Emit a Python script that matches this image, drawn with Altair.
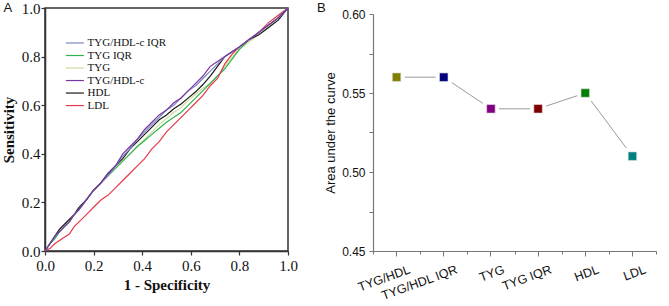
import altair as alt
import pandas as pd

# ---------------- data ----------------
roc_names = ["TYG/HDL-c IQR", "TYG IQR", "TYG", "TYG/HDL-c", "HDL", "LDL"]
roc_colors = ["#7b86c4", "#2eb34b", "#cbdc9c", "#7a36a0", "#1a1a1a", "#e8384a"]
draw_order = ["TYG", "TYG IQR", "LDL", "HDL", "TYG/HDL-c IQR", "TYG/HDL-c"]

fpr_grid = [0, 0.02, 0.04, 0.06, 0.08, 0.10, 0.12, 0.14, 0.17, 0.20, 0.23, 0.26,
            0.29, 0.32, 0.35, 0.38, 0.41, 0.44, 0.47, 0.50, 0.53, 0.56, 0.59, 0.62,
            0.65, 0.68, 0.71, 0.74, 0.77, 0.80, 0.84, 0.88, 0.92, 0.96, 1.0]
tpr_tyg_hdl_c = [0, 0.03, 0.06, 0.08, 0.10, 0.12, 0.15, 0.17, 0.21, 0.25, 0.28, 0.32,
                 0.35, 0.40, 0.43, 0.46, 0.50, 0.53, 0.56, 0.58, 0.61, 0.63, 0.66, 0.69,
                 0.72, 0.76, 0.78, 0.80, 0.82, 0.84, 0.87, 0.90, 0.93, 0.96, 1.0]
tpr_tyg_hdl_c_iqr = [0, 0.03, 0.06, 0.08, 0.10, 0.12, 0.15, 0.17, 0.21, 0.25, 0.28, 0.31,
                     0.35, 0.39, 0.42, 0.46, 0.49, 0.52, 0.55, 0.58, 0.60, 0.63, 0.66, 0.68,
                     0.71, 0.74, 0.77, 0.80, 0.82, 0.84, 0.87, 0.90, 0.93, 0.96, 1.0]
tpr_hdl = [0, 0.03, 0.06, 0.09, 0.11, 0.13, 0.15, 0.18, 0.21, 0.25, 0.28, 0.32,
           0.35, 0.38, 0.42, 0.45, 0.48, 0.51, 0.54, 0.56, 0.585, 0.605, 0.63, 0.655,
           0.685, 0.72, 0.76, 0.80, 0.82, 0.84, 0.87, 0.89, 0.92, 0.95, 1.0]
tpr_tyg_iqr = [0, 0.03, 0.05, 0.08, 0.10, 0.12, 0.15, 0.17, 0.21, 0.25, 0.28, 0.31,
               0.34, 0.37, 0.40, 0.43, 0.455, 0.48, 0.505, 0.53, 0.55, 0.57, 0.60, 0.63,
               0.66, 0.69, 0.72, 0.75, 0.79, 0.83, 0.87, 0.90, 0.93, 0.96, 1.0]
tpr_tyg = [0, 0.03, 0.06, 0.08, 0.10, 0.13, 0.15, 0.18, 0.21, 0.25, 0.28, 0.31,
           0.34, 0.37, 0.40, 0.43, 0.46, 0.49, 0.52, 0.545, 0.57, 0.59, 0.62, 0.645,
           0.67, 0.69, 0.72, 0.76, 0.80, 0.83, 0.86, 0.89, 0.92, 0.96, 1.0]
fpr_ldl = [0, 0.02, 0.04, 0.07, 0.10, 0.12, 0.14, 0.17, 0.20, 0.23, 0.26, 0.29,
           0.32, 0.35, 0.38, 0.41, 0.44, 0.47, 0.50, 0.53, 0.56, 0.59, 0.62, 0.65,
           0.68, 0.71, 0.74, 0.77, 0.80, 0.84, 0.88, 0.92, 0.96, 1.0]
tpr_ldl = [0, 0.01, 0.03, 0.05, 0.07, 0.10, 0.12, 0.15, 0.18, 0.21, 0.23, 0.26,
           0.29, 0.32, 0.35, 0.38, 0.42, 0.45, 0.49, 0.52, 0.55, 0.58, 0.61, 0.64,
           0.68, 0.71, 0.77, 0.81, 0.84, 0.87, 0.90, 0.94, 0.97, 1.0]

auc_labels = ["TYG/HDL", "TYG/HDL IQR", "TYG", "TYG IQR", "HDL", "LDL"]
auc_values = [0.56, 0.56, 0.54, 0.54, 0.55, 0.51]
auc_colors = ["#808000", "#000080", "#800080", "#800000", "#008000", "#008080"]
auc_ticks = [0.45, 0.475, 0.50, 0.525, 0.55, 0.575, 0.60]

# ---------------- tables ----------------
curves = {
    "TYG/HDL-c IQR": (fpr_grid, tpr_tyg_hdl_c_iqr),
    "TYG IQR": (fpr_grid, tpr_tyg_iqr),
    "TYG": (fpr_grid, tpr_tyg),
    "TYG/HDL-c": (fpr_grid, tpr_tyg_hdl_c),
    "HDL": (fpr_grid, tpr_hdl),
    "LDL": (fpr_ldl, tpr_ldl),
}
color_of = dict(zip(roc_names, roc_colors))

serif = "Liberation Serif"
sans = "Liberation Sans"
dark = "#333333"

xs = alt.Scale(domain=[0, 1], nice=False, zero=False)
ys = alt.Scale(domain=[0, 1], nice=False, zero=False)
ticks01 = [0, 0.2, 0.4, 0.6, 0.8, 1.0]

x_axis_l = alt.Axis(values=ticks01, format=".1f", title="1 - Specificity",
                    titleFont=serif, titleFontSize=15, titleFontWeight="bold",
                    titleColor="#111", labelFont=serif, labelFontSize=15,
                    labelColor="#111", tickSize=4, labelPadding=3, titlePadding=4,
                    domainColor=dark, tickColor=dark, domainWidth=1.5, tickWidth=1.2,
                    grid=False, labelFlush=False)
y_axis_l = alt.Axis(values=ticks01, format=".1f", title="Sensitivity",
                    titleFont=serif, titleFontSize=15, titleFontWeight="bold",
                    titleColor="#111", labelFont=serif, labelFontSize=15,
                    labelColor="#111", tickSize=4, labelPadding=1, titlePadding=5,
                    domainColor=dark, tickColor=dark, domainWidth=1.5, tickWidth=1.2,
                    grid=False, labelFlush=False)

left_layers = []
for name in draw_order:
    fx, ty = curves[name]
    df = pd.DataFrame({"fpr": fx, "tpr": ty, "idx": list(range(len(fx)))})
    left_layers.append(
        alt.Chart(df).mark_line(color=color_of[name], strokeWidth=1.2).encode(
            x=alt.X("fpr:Q", scale=xs, axis=x_axis_l),
            y=alt.Y("tpr:Q", scale=ys, axis=y_axis_l),
            order=alt.Order("idx:Q"),
        )
    )

# legend inside panel A, built from the series names
leg = pd.DataFrame({
    "name": roc_names,
    "col": roc_colors,
    "lx": [0.086] * len(roc_names),
    "lx2": [0.16] * len(roc_names),
    "tx": [0.175] * len(roc_names),
    "ly": [0.856 - 0.0515 * i for i in range(len(roc_names))],
})
leg_lines = alt.Chart(leg).mark_rule(strokeWidth=1.2).encode(
    x=alt.X("lx:Q", scale=xs, axis=x_axis_l),
    x2="lx2:Q",
    y=alt.Y("ly:Q", scale=ys, axis=y_axis_l),
    color=alt.Color("col:N", scale=None, legend=None),
)
leg_text = alt.Chart(leg).mark_text(font=serif, fontSize=11, align="left",
                                    baseline="middle", color="#111").encode(
    x=alt.X("tx:Q", scale=xs, axis=x_axis_l),
    y=alt.Y("ly:Q", scale=ys, axis=y_axis_l),
    text="name:N",
)
label_a = alt.Chart(alt.Data(values=[{}])).mark_text(
    text="A", font=sans, fontSize=13, align="left", baseline="alphabetic", color="#111"
).encode(x=alt.value(-41.5), y=alt.value(3.5))

left = alt.layer(*left_layers, leg_lines, leg_text, label_a).properties(
    width=243, height=243,
    view=alt.ViewBackground(stroke=dark, strokeWidth=1.5),
)

# ---------------- panel B ----------------
auc_df = pd.DataFrame({"marker": auc_labels, "auc": auc_values})
grey = "#777777"
xband = alt.Scale(type="band", domain=auc_labels, paddingInner=0, paddingOuter=0)
yauc = alt.Scale(domain=[0.45, 0.60], nice=False, zero=False, range=[243, 6])

x_major = alt.Axis(orient="bottom", title=None, labelAngle=340, labelAlign="right",
                   labelBaseline="top", labelOffset=11, labelPadding=7,
                   labelFont=sans, labelFontSize=12.5, labelColor="#111",
                   tickSize=5, tickColor=grey, domainColor=grey, domainWidth=1.2,
                   grid=False)
x_minor = alt.Axis(orient="bottom", title=None, labels=False, domain=False,
                   tickBand="extent", tickSize=3, tickColor=grey, grid=False)
y_major = alt.Axis(orient="left", values=auc_ticks,
                   labelExpr="round(datum.value * 40) % 2 == 1 ? '' : format(datum.value, '.2f')",
                   title="Area under the curve", titleFont=sans, titleFontSize=13,
                   titleFontWeight="normal", titleColor="#111", titlePadding=4,
                   labelFont=sans, labelFontSize=12, labelColor="#111", labelPadding=4,
                   tickSize=4, tickColor=grey, domainColor=grey, domainWidth=1.2,
                   grid=False, labelFlush=False)

base_b = alt.Chart(auc_df)
minor_b = base_b.mark_point(opacity=0).encode(
    x=alt.X("marker:N", sort=auc_labels, scale=xband, axis=x_minor),
    y=alt.Y("auc:Q", scale=yauc, axis=None),
)
line_b = base_b.mark_line(color="#9a9a9a", strokeWidth=1).encode(
    x=alt.X("marker:N", sort=auc_labels, scale=xband, axis=x_major),
    y=alt.Y("auc:Q", scale=yauc, axis=y_major),
)
gap_b = base_b.mark_point(shape="square", filled=True, color="white", size=260,
                          opacity=1).encode(
    x=alt.X("marker:N", sort=auc_labels, scale=xband, axis=x_major),
    y=alt.Y("auc:Q", scale=yauc, axis=y_major),
)
pts_b = base_b.mark_point(shape="square", filled=True, size=72, opacity=1,
                          stroke="#dddddd", strokeWidth=0.6).encode(
    x=alt.X("marker:N", sort=auc_labels, scale=xband, axis=x_major),
    y=alt.Y("auc:Q", scale=yauc, axis=y_major),
    color=alt.Color("marker:N", scale=alt.Scale(domain=auc_labels, range=auc_colors),
                    legend=None),
)
label_b = alt.Chart(alt.Data(values=[{}])).mark_text(
    text="B", font=sans, fontSize=13, align="left", baseline="alphabetic", color="#111"
).encode(x=alt.value(-56), y=alt.value(3.5))

main_b = alt.layer(line_b, gap_b, pts_b, label_b)
right = alt.layer(minor_b, main_b).resolve_scale(
    x="independent", y="independent"
).properties(width=283, height=243)

chart = alt.hconcat(left, right, spacing=85, bounds="flush").properties(
    padding={"left": 0, "top": 0, "right": 0, "bottom": 0}
).configure_view(stroke="transparent")

chart.save("out.html", embed_options={"renderer": "svg", "actions": False})
